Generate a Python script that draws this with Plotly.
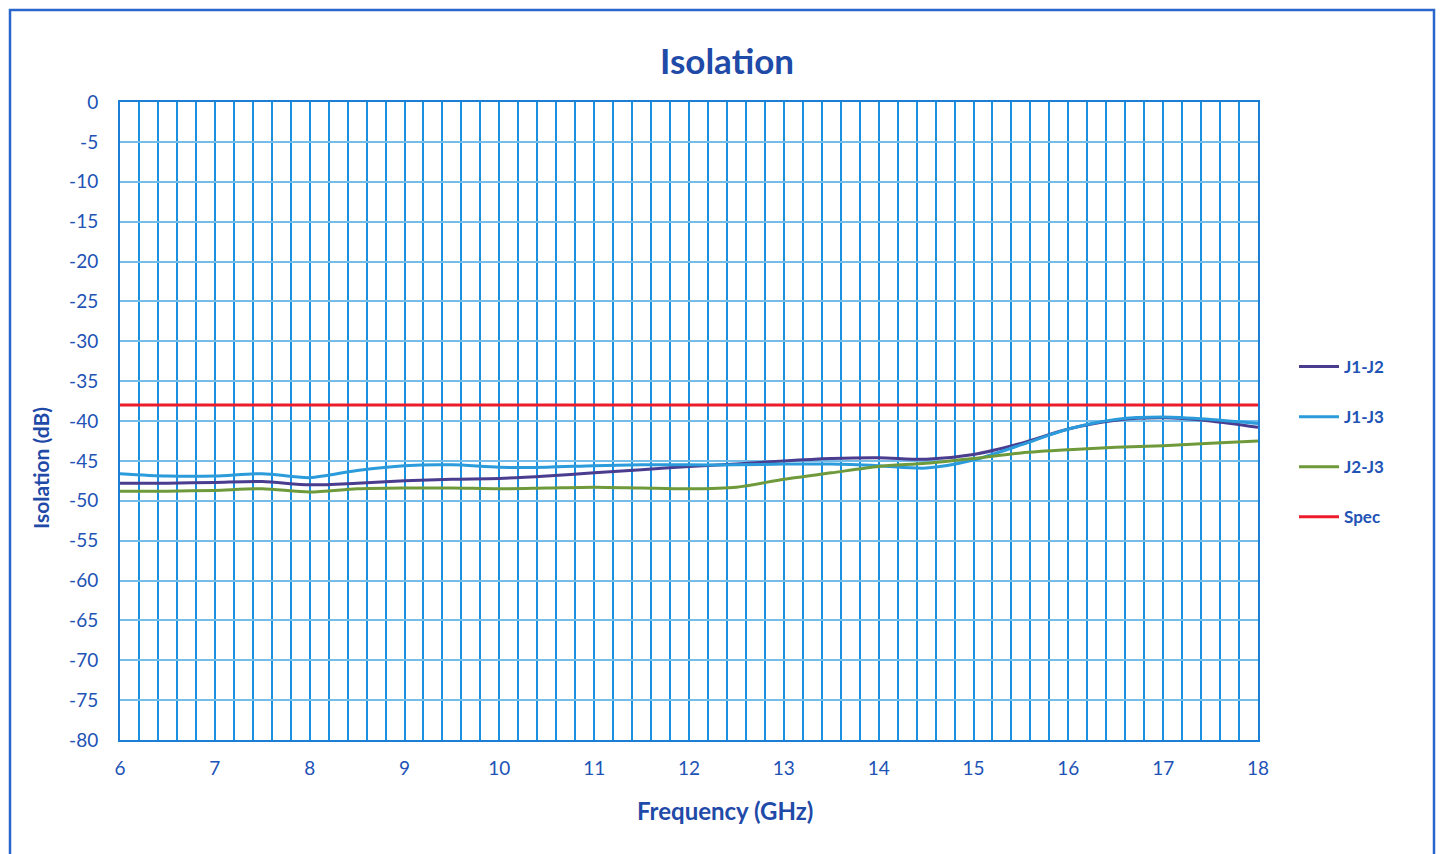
import plotly.graph_objects as go

freq = [6, 6.5, 7, 7.5, 8, 8.5, 9, 9.5, 10, 10.5, 11, 11.5, 12, 12.5, 13,
        13.5, 14, 14.5, 15, 15.5, 16, 16.5, 17, 17.5, 18]
j1_j2 = [-47.8, -47.8, -47.7, -47.6, -48.0, -47.8, -47.5, -47.3, -47.2, -46.9,
         -46.5, -46.1, -45.7, -45.4, -45.0, -44.7, -44.6, -44.8, -44.2, -42.8,
         -41.0, -39.9, -39.6, -40.0, -40.8]
j1_j3 = [-46.6, -46.9, -46.9, -46.6, -47.1, -46.2, -45.6, -45.5, -45.8, -45.8,
         -45.6, -45.5, -45.5, -45.5, -45.4, -45.4, -45.6, -45.9, -44.9, -43.0,
         -41.0, -39.8, -39.5, -39.8, -40.3]
j2_j3 = [-48.8, -48.8, -48.7, -48.5, -48.9, -48.5, -48.4, -48.4, -48.5, -48.4,
         -48.3, -48.4, -48.5, -48.3, -47.3, -46.5, -45.7, -45.3, -44.7, -44.0,
         -43.6, -43.3, -43.1, -42.8, -42.5]
spec_x = [6, 18]
spec = [-38, -38]

y_tickvals = [0, -5, -10, -15, -20, -25, -30, -35, -40, -45, -50, -55, -60, -65, -70, -75, -80]
y_ticktext = ["0", "-5", "-10", "-15", "-20", "-25", "-30", "-35", "-40", "-45",
              "-50", "-55", "-60", "-65", "-70", "-75", "-80"]

series = [
    ("J1-J2", freq, j1_j2, "#4a3d8f"),
    ("J1-J3", freq, j1_j3, "#2b9bdb"),
    ("J2-J3", freq, j2_j3, "#6f9a3c"),
    ("Spec", spec_x, spec, "#ec1c2c"),
]

FONT = "Lato"
TXT = "#2152b5"
DARK = "#1f4aa8"

W, H = 1437, 846
L, T, PW, PH = 112, 94, 1138, 638
OFF = 6  # page offset of the figure

def px(xpage):
    return (xpage - OFF - L) / PW

def py(ypage):
    return 1 - (ypage - OFF - T) / PH

fig = go.Figure()
for name, xs, ys, col in series:
    fig.add_trace(go.Scatter(
        x=xs, y=ys, name=name, mode="lines", legendgroup=name,
        line=dict(color=col, width=3, shape="spline", smoothing=0.8),
    ))

fig.update_layout(
    width=W, height=H,
    margin=dict(l=L, r=W - L - PW, t=T, b=H - T - PH),
    paper_bgcolor="white", plot_bgcolor="white",
    title=dict(text="<b>Isolation</b>", x=(725 - OFF) / W, xanchor="center",
               y=1 - (60 - OFF) / H, yanchor="middle",
               font=dict(family=FONT, size=35, color=DARK)),
    font=dict(family=FONT, color=TXT),
    legend=dict(x=px(1292), xanchor="left", y=py(347), yanchor="top",
                tracegroupgap=25, font=dict(family=FONT, size=17, color=TXT, weight="bold"),
                itemwidth=40, bgcolor="rgba(0,0,0,0)"),
    showlegend=True,
)
fig.update_xaxes(
    range=[6, 18], dtick=1, tick0=6,
    showgrid=True, gridcolor="#1b8fe0", gridwidth=2,
    minor=dict(dtick=0.2, showgrid=True, gridcolor="#1b8fe0", gridwidth=2),
    showline=True, linecolor="#1b7fd8", linewidth=2, mirror=True,
    zeroline=False, ticks="", ticklabelstandoff=10,
    tickfont=dict(family=FONT, size=19, color=TXT),
)
fig.update_yaxes(
    range=[-80, 0], tickvals=y_tickvals, ticktext=y_ticktext,
    showgrid=True, gridcolor="#74bde9", gridwidth=1.5,
    showline=True, linecolor="#1b7fd8", linewidth=2, mirror=True,
    zeroline=False, ticks="", ticklabelstandoff=16,
    tickfont=dict(family=FONT, size=19, color=TXT),
)

fig.add_annotation(text="<b>Frequency (GHz)</b>", xref="paper", yref="paper",
                   x=px(723), y=py(808), xanchor="center", yanchor="middle",
                   showarrow=False, font=dict(family=FONT, size=24, color=DARK))
fig.add_annotation(text="<b>Isolation (dB)</b>", xref="paper", yref="paper",
                   x=px(38), y=py(466), xanchor="center", yanchor="middle",
                   textangle=-90, showarrow=False, font=dict(family=FONT, size=21, color=DARK))

fig.add_shape(type="rect", xref="paper", yref="paper",
              x0=(2 - L) / PW, x1=px(1432),
              y0=py(880), y1=1 + (T - 2) / PH,
              line=dict(color="#2a66cc", width=2.5), fillcolor="rgba(0,0,0,0)", layer="below")

fig.write_html("out.html")
